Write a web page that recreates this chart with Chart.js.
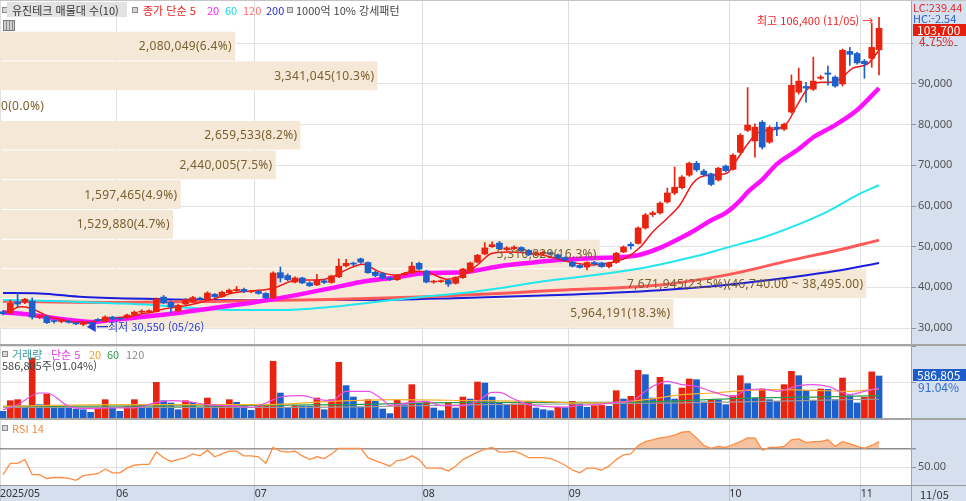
<!DOCTYPE html>
<html lang="ko">
<head>
<meta charset="utf-8">
<title>유진테크 일봉</title>
<script src="https://cdn.jsdelivr.net/npm/chart.js@4.4.1/dist/chart.umd.min.js"></script>
<style>
  html, body { margin: 0; padding: 0; background: #fff; }
  #wrap { position: relative; width: 966px; height: 501px; overflow: hidden; background: #fff;
          font-family: "Noto Sans CJK KR", "Noto Sans", sans-serif; font-size: 11px; }
  .pane { position: absolute; }
  .t { position: absolute; white-space: nowrap; line-height: 12px; }
  .sq { position: absolute; width: 4px; height: 4px; border: 1px solid #8a8a8a; background: #d8d8d8; }
  .band { position: absolute; white-space: nowrap; line-height: 12px; font-family: "Noto Sans", sans-serif;
          font-size: 12px; letter-spacing: 0.3px; color: #7a6030; }
  .line { position: absolute; left: 0; width: 966px; }
</style>
</head>
<body>
<div id="wrap">
  <div class="pane" style="left:911px;top:0;width:55px;height:501px;background:#d5dfed"></div>
  <div class="pane" style="left:0;top:486px;width:966px;height:15px;background:#d5dfed"></div>

  <div class="pane" style="left:0;top:0;width:966px;height:344px"><canvas id="cMain"></canvas></div>
  <div class="pane" style="left:0;top:346px;width:966px;height:72px"><canvas id="cVol"></canvas></div>
  <div class="pane" style="left:0;top:420px;width:966px;height:81px"><canvas id="cRsi"></canvas></div>

  <div class="line" style="top:0;height:1px;background:#c4c4c4"></div>
  <div class="line" style="top:344px;height:2px;background:#a4a4a4"></div>
  <div class="line" style="top:418px;height:2px;background:#a4a4a4"></div>
  <div class="line" style="top:485px;height:1px;background:#9a9a9a"></div>
  <div class="pane" style="left:911px;top:486px;width:1px;height:15px;background:#9aa4b4"></div>

  <!-- price panel legend -->
  <div class="sq" style="left:2px;top:7px"></div>
  <div class="pane" style="left:7px;top:2px;width:120px;height:15px;background:#e2e2e2"></div>
  <div class="t" style="left:12px;top:4px;color:#333">유진테크 매물대 수(10)</div>
  <div class="sq" style="left:132px;top:7px"></div>
  <div class="t" style="left:143px;top:4px;color:#f02020">종가 단순 5</div>
  <div class="t" style="left:207px;top:4px;color:#ff22ff">20</div>
  <div class="t" style="left:225px;top:4px;color:#18d8e8">60</div>
  <div class="t" style="left:243px;top:4px;color:#ff7070">120</div>
  <div class="t" style="left:266px;top:4px;color:#2a2ae0">200</div>
  <div class="sq" style="left:287px;top:7px"></div>
  <div class="t" style="left:296px;top:4px;color:#444">1000억 10% 강세패턴</div>
  <div class="pane" style="left:3px;top:20px;width:10px;height:9px;border:1px solid #7a7a7a;background:repeating-linear-gradient(90deg,#d0d0d0 0 2px,#8a8a8a 2px 3px)"></div>

  <div class="t" style="left:757px;top:14px;color:#ee2222">최고 106,400 (11/05) →</div>
  <div class="t" style="left:86px;top:320px;color:#2a3ed8">◀━최저 30,550 (05/26)</div>

  <!-- right axis labels -->
  <div class="t" style="left:913px;top:1px;color:#e02828">LC:239.44</div>
  <div class="t" style="left:913px;top:12px;color:#2a62d0">HC:-2.54</div>
  <div class="pane" style="left:913px;top:24px;width:53px;height:12px;background:#e4200c"></div>
  <div class="t" style="left:917px;top:24px;color:#fff;font-size:12px">103,700</div>
  <div class="pane" style="left:913px;top:36px;width:53px;height:9px;background:#d5dfed"></div>
  <div class="t" style="left:919px;top:35px;color:#e02828;font-size:12px">4.75%</div>

  <!-- volume legend -->
  <div class="sq" style="left:2px;top:351px"></div>
  <div class="t" style="left:12px;top:348px;color:#3a9aa0">거래량</div>
  <div class="t" style="left:51px;top:348px;color:#e040e0">단순 5</div>
  <div class="t" style="left:89px;top:348px;color:#f0a020">20</div>
  <div class="t" style="left:107px;top:348px;color:#2e9a4a">60</div>
  <div class="t" style="left:126px;top:348px;color:#8a8a8a">120</div>
  <div class="t" style="left:2px;top:359px;color:#444">586,805주(91.04%)</div>
  <div class="pane" style="left:913px;top:369px;width:53px;height:12px;background:#1d5cc9"></div>
  <div class="t" style="left:917px;top:369px;color:#fff;font-size:12px">586,805</div>
  <div class="t" style="left:918px;top:381px;color:#2f6fd6;font-size:12px">91.04%</div>

  <!-- rsi legend -->
  <div class="sq" style="left:2px;top:425px"></div>
  <div class="t" style="left:12px;top:422px;color:#f08a40">RSI 14</div>

  <div class="t" style="left:920px;top:488px;color:#333">11/05</div>
</div>

<script>
// Candles, one per trading day (2025/05 .. 2025/11/05)
const opens = [34000,33700,36400,36400,36600,32700,32800,31800,31600,31700,
  31300,30900,31200,32100,31600,32700,32300,32500,33300,33900,
  34000,34000,37600,36300,34200,35900,36500,37300,37000,38300,
  37700,38700,39200,39500,38900,39000,38500,37400,43600,42900,
  41300,42300,41100,40600,41600,41200,42600,45300,45800,47000,
  46100,43700,43400,42300,41900,43100,43500,45900,44000,41300,
  41400,41700,41000,42400,43800,46200,48200,50000,50900,49300,
  49500,49800,49100,48000,48300,48500,48000,47300,46200,45400,
  45000,46100,46000,45100,46100,48700,50600,50800,54600,57900,
  58300,61000,63200,64500,67600,70500,68600,67900,66400,69800,
  69000,73200,78600,76000,80600,75700,79400,78900,83100,88000,
  89400,88700,91400,92700,91700,90000,98000,97500,95600,96300,
  98400];
const highs = [34300,36900,38600,37300,37400,33300,33000,32000,31900,31800,
  31400,31400,31400,32300,33000,32900,32500,33400,34200,34500,
  34500,37400,38000,36600,35800,37200,37800,37600,38900,38500,
  39100,39600,40200,39800,39300,39200,38700,43800,45000,43300,
  42600,42500,41400,43200,41900,43000,47000,46900,46200,47200,
  46300,44000,43600,42500,43200,43700,46200,46200,44200,41700,
  41800,41900,42600,44700,46200,48100,51000,51200,51300,50000,
  50200,50000,49300,48800,48900,48700,48200,47500,46400,45600,
  46300,46400,46200,46200,48600,50200,51000,54900,58200,58700,
  61000,64400,69600,67500,70800,71000,69000,68100,69500,70100,
  72800,77800,89100,80200,81000,79700,80600,80400,92200,93900,
  90400,96600,92100,94400,92000,98600,99000,97800,96000,105000,
  106400];
const lows = [33200,33500,35200,36000,32200,32300,31100,31200,31300,31200,
  30800,30550,30800,31600,31500,32000,31900,32400,33100,33600,
  33800,33900,36000,33800,34000,35700,36300,36900,36900,37500,
  37500,38500,39000,38700,38700,38300,37200,37200,41300,41600,
  41100,40900,40200,40400,40900,41000,42400,45000,45300,45900,
  43400,42600,42000,41700,41700,42900,43300,44300,41100,41000,
  41200,40200,40800,42200,43600,46000,48000,49800,49300,49000,
  49200,48800,47800,47800,48100,47900,47000,46500,45000,44700,
  44300,45500,44900,44800,45900,48500,49400,50600,54300,57400,
  58000,60700,62800,64200,67300,68500,67400,65000,66100,68400,
  68800,72900,78300,72000,74000,75400,77300,78600,82800,87500,
  85500,88400,91100,89700,89200,89500,94600,94900,91400,94100,
  92200];
const closes = [33500,36100,35900,37100,32700,33000,31300,31600,31700,31400,
  31000,31200,31100,31800,32700,32200,32200,33200,33900,34100,
  34200,37100,36200,35200,35600,37000,37500,37100,38600,37700,
  38800,39300,39500,39000,39100,38500,37400,43500,42300,41900,
  42300,41100,40400,41800,41200,42800,45200,45900,45700,46200,
  43600,42900,42300,41900,43000,43400,45200,44500,41300,41500,
  41600,40800,42400,44500,46000,47900,49700,50500,49500,49700,
  49900,49000,48000,48500,48600,48200,47200,46700,45200,44900,
  46100,45800,45100,46000,48400,49900,50200,54600,57800,58300,
  60700,63200,64600,67100,70500,68900,67700,65300,69300,68700,
  72500,77400,79900,79400,74500,79300,78900,80100,89700,90700,
  89000,90700,91700,92400,89500,98300,97300,95200,95000,99000,
  103700];
const volumes = [93000,242000,256000,163000,838000,186000,335000,163000,160000,140000,
  126000,116000,79000,140000,256000,140000,93000,163000,256000,186000,
  140000,498000,242000,210000,116000,242000,219000,140000,279000,163000,
  170000,256000,219000,186000,107000,172000,175000,792000,349000,140000,
  172000,168000,165000,279000,116000,256000,778000,452000,293000,149000,
  256000,233000,126000,61000,256000,186000,466000,205000,215000,140000,
  102000,219000,140000,293000,265000,503000,489000,293000,219000,177000,
  196000,200000,233000,140000,116000,102000,149000,145000,233000,196000,
  149000,172000,176000,163000,382000,265000,303000,666000,605000,279000,
  568000,466000,265000,419000,545000,535000,224000,256000,250000,186000,
  312000,591000,480000,279000,405000,256000,233000,466000,652000,591000,
  382000,242000,405000,400000,256000,559000,312000,210000,289000,644558,
  586805];
const rsi14 = [42,54,54,58,42,42,38,39,39,38,
  36,41,42,43,48,44,44,49,52,53,
  53,66,60,56,58,60,64,62,68,61,
  64,67,67,62,62,61,54,71,67,66,
  67,62,58,61,59,64,70,70,70,70,
  60,57,54,51,57,58,62,58,49,49,
  49,46,51,58,62,66,69,71,66,66,
  67,64,60,60,60,59,56,52,47,44,
  49,49,47,51,58,63,64,73,77,79,
  81,82,84,87,88,81,73,70,72,71,
  74,77,81,81,68,71,71,72,79,80,
  76,77,77,79,72,77,75,72,70,73,
  77];

// Price moving averages (candle index, value)
const ma5Idx = [0,1,2.3,3.7,5,6.4,7.8,9.6,12,13.3,15,17,18.8,20.5,22,24,26.6,28.8,31.5,34,37,40.3,43,44.8,47,49.3,51.6,54,56.2,58.5,60.8,63,65,67,69.5,74,77.7,80.8,83,85.5,87.3,89,91,92.7,94.5,95.5,97.3,99.2,100.5,101.9,103.3,104.7,106,107.4,108.8,110.1,112,113.7,115,116.4,118.4,120];
const ma5Val = [33700,34200,35200,34900,33900,32700,32200,31500,31500,32000,32500,32700,33400,33900,34700,35200,36100,37100,38600,39100,39800,41800,41800,42300,44300,45700,43800,43000,44000,43500,42000,43000,45500,48400,48700,47900,46200,45500,46000,47400,49900,53600,57000,60200,65600,67100,67600,68100,71300,75000,77900,78600,78900,80400,84800,88500,90400,90400,91700,93900,94900,98300];
const ma20Idx = [0,4,9,12,15,19,24,28,32,38,45,49,54,58,63,68,72,76,81,84,87,90,93,95,97,99,101,102,104,106,109,111,114,117,120];
const ma20Val = [33900,33200,32000,31500,32000,32700,33700,34700,35700,37400,39800,41300,42500,43500,43700,45200,46000,46700,47200,47400,47900,49700,52300,54300,56500,58300,61400,63400,66500,70300,74000,76900,79900,83600,89000];
const ma60Idx = [0,8,15,20,26,32,38,45,51,56,63,68,74,80,88,95,99,104,108,113,117,120];
const ma60Val = [36900,36600,36100,35700,34900,34400,34400,35200,36400,37400,38600,39800,41500,42800,44900,47700,49700,52200,54800,58700,62700,65100];
const ma120Idx = [0,16,30,45,57,63,70,76,90,99,108,114,120];
const ma120Val = [36600,36300,36600,37000,37600,38100,38700,39300,40600,43000,46700,49000,51600];
const ma200Idx = [0,5,11,22,32,49,63,76,90,99,108,114,120];
const ma200Val = [38600,38500,37600,37100,36900,36900,37400,38100,39300,40600,42500,44000,46000];

// Volume moving averages (candle index, shares)
const vma5Idx = [0,2,5,6,9,11,15,18,21,23,25,28,31,34,36,38,41,43,45,47,50,52,53,56,58,60,63,65,67,68,70,72,74,77,79,81,84,86,88,89,91,93,95,97,100,102,104,106,109,111,113,116,118,120];
const vma5Val = [116000,186000,349000,349000,163000,130000,140000,140000,219000,242000,233000,186000,172000,149000,210000,293000,312000,265000,242000,373000,373000,256000,177000,219000,233000,172000,172000,233000,359000,359000,265000,186000,163000,154000,177000,186000,219000,233000,373000,442000,512000,466000,442000,373000,303000,396000,405000,373000,452000,466000,442000,326000,373000,419000];
const vma20Idx = [0,15,36,45,54,65,74,79,84,88,93,97,102,106,111,116,120];
const vma20Val = [163000,186000,186000,233000,256000,242000,233000,210000,219000,256000,326000,349000,387000,396000,387000,373000,405000];
const vma60Idx = [0,28,46,65,84,93,102,111,120];
const vma60Val = [163000,170000,186000,219000,219000,242000,279000,293000,312000];
const vma120Idx = [0,40,66,93,111,120];
const vma120Val = [149000,149000,186000,210000,247000,265000];

// Volume-by-price bands (매물대), top band first
const bandCenters = [99300,92000,84700,77400,70100,62800,55500,48200,40900,33600];
const bandVolumes = [2080049,3341045,0,2659533,2440005,1597465,1529880,5310829,7671945,5964191];
const bandPct = [6.4,10.3,0.0,8.2,7.5,4.9,4.7,16.3,23.5,18.3];
const bandNote = ['','','','','','','','','(46,740.00 ~ 38,495.00)',''];

// Axes
const priceTicks = [30000,40000,50000,60000,70000,80000,90000,100000];
const monthEdges = [-0.41,15.5,34.5,57.5,77.5,99.5,117.5];
const monthLabels = ['2025/05','06','07','08','09','10','11'];

const UP = '#e8230f';
const DOWN = '#1d5fcb';
const X_MIN = -0.41, X_MAX = 124.38;
const AXIS_W = 55;

Chart.defaults.font.family = "'Noto Sans', sans-serif";
Chart.defaults.animation = false;
Chart.defaults.events = [];
Chart.defaults.plugins.legend.display = false;
Chart.defaults.plugins.tooltip.enabled = false;

const toPts = (idx, val) => idx.map((x, k) => ({ x: x, y: val[k] }));

// keep every panel's plot area flush with its canvas edges
function noPad(s) {
  s.paddingLeft = 0; s.paddingRight = 0; s.paddingTop = 0; s.paddingBottom = 0;
}
function rightAxisFit(s) { s.width = AXIS_W; noPad(s); }

function timeAxis(withLabels) {
  return {
    type: 'linear', min: X_MIN, max: X_MAX, offset: false,
    afterBuildTicks: s => { s.ticks = monthEdges.map(v => ({ value: v })); },
    grid: { color: '#dedede', offset: false, drawTicks: withLabels, tickLength: 15, tickColor: '#b8c2d2' },
    border: { display: false },
    ticks: withLabels
      ? { display: true, autoSkip: false, maxRotation: 0, align: 'start', padding: -13,
          color: '#333', font: { size: 10.5 }, callback: (v, i) => monthLabels[i] }
      : { display: false },
    afterFit: s => { s.height = withLabels ? 15 : 0; noPad(s); }
  };
}

function maLine(idx, val, color, width, order) {
  return { type: 'line', data: toPts(idx, val), borderColor: color, borderWidth: width,
           pointRadius: 0, cubicInterpolationMode: 'monotone', order: order, fill: false };
}

const candleColor = closes.map((c, i) => c >= opens[i] ? UP : DOWN);

const mainChart = new Chart(document.getElementById('cMain'), {
  type: 'bar',
  data: {
    datasets: [
      { type: 'bar', indexAxis: 'y', xAxisID: 'xv', yAxisID: 'y',
        data: bandCenters.map((c, k) => ({ x: [0, bandVolumes[k]], y: c })),
        backgroundColor: '#f5e8d6', barThickness: 28, grouped: false, order: 20 },
      maLine(ma200Idx, ma200Val, '#1c1cdc', 2, 9),
      maLine(ma120Idx, ma120Val, '#ff5a5a', 3, 8),
      maLine(ma60Idx, ma60Val, '#22e6ee', 2, 7),
      maLine(ma20Idx, ma20Val, '#ff10ff', 4.5, 6),
      maLine(ma5Idx, ma5Val, '#f01818', 1.5, 2),
      { type: 'bar', data: highs.map((h, i) => ({ x: i, y: [lows[i], h] })),
        backgroundColor: candleColor, barThickness: 1, grouped: false, order: 1 },
      { type: 'bar', data: opens.map((o, i) => ({ x: i, y: [o, closes[i]] })),
        backgroundColor: candleColor, barThickness: 6, minBarLength: 1, grouped: false, order: 0 }
    ]
  },
  options: {
    responsive: true, maintainAspectRatio: false,
    layout: { padding: 0 },
    scales: {
      x: timeAxis(false),
      xv: { type: 'linear', display: false, min: 0, max: 8070600, offset: false, grid: { offset: false } },
      y: {
        position: 'right', min: 26070, max: 110650, offset: false,
        afterBuildTicks: s => { s.ticks = priceTicks.map(v => ({ value: v })); },
        ticks: { color: '#555', font: { size: 11 }, padding: 2,
                 callback: v => v.toLocaleString('en-US') },
        grid: { color: '#e2e2e2', tickColor: '#8a94a4', tickLength: 5, offset: false },
        border: { color: '#9aa4b4' },
        afterFit: rightAxisFit
      }
    }
  }
});

new Chart(document.getElementById('cVol'), {
  type: 'bar',
  data: {
    datasets: [
      maLine(vma120Idx, vma120Val, '#9a9a9a', 1.2, 5),
      maLine(vma60Idx, vma60Val, '#2e9a4a', 1.2, 4),
      maLine(vma20Idx, vma20Val, '#f5b030', 1.2, 3),
      maLine(vma5Idx, vma5Val, '#e850e8', 1.2, 2),
      { type: 'bar', data: volumes.map((v, i) => ({ x: i, y: v })),
        backgroundColor: volumes.map((v, i) => i > 0 && v > volumes[i - 1] ? UP : DOWN),
        barThickness: 6, grouped: false, order: 6 }
    ]
  },
  options: {
    responsive: true, maintainAspectRatio: false,
    layout: { padding: 0 },
    scales: {
      x: timeAxis(false),
      y: {
        position: 'right', min: 0, max: 1006000, offset: false,
        afterBuildTicks: s => { s.ticks = [500000, 1000000].map(v => ({ value: v })); },
        ticks: { callback: () => '' },
        grid: { color: '#e2e2e2', tickColor: '#8a94a4', tickLength: 5 },
        border: { color: '#9aa4b4' },
        afterFit: rightAxisFit
      }
    }
  }
});

new Chart(document.getElementById('cRsi'), {
  type: 'line',
  data: {
    datasets: [
      { data: rsi14.map((v, i) => ({ x: i, y: v })), borderColor: '#ff8c42', borderWidth: 1.3,
        pointRadius: 0, tension: 0,
        fill: { target: { value: 70 }, above: '#f6c3a0', below: 'rgba(0,0,0,0)' } }
    ]
  },
  options: {
    responsive: true, maintainAspectRatio: false,
    layout: { padding: 0 },
    scales: {
      x: timeAxis(true),
      y: {
        position: 'right', min: 30, max: 100, offset: false,
        afterBuildTicks: s => { s.ticks = [50, 70].map(v => ({ value: v })); },
        ticks: { color: '#555', font: { size: 11 }, padding: 2,
                 callback: v => v === 50 ? '50.00' : '' },
        grid: { color: c => c.tick && c.tick.value === 70 ? '#8c8c8c' : '#e2e2e2',
                lineWidth: c => c.tick && c.tick.value === 70 ? 1.5 : 1,
                tickColor: '#8a94a4', tickLength: 5 },
        border: { color: '#9aa4b4' },
        afterFit: rightAxisFit
      }
    }
  }
});

// Band labels, placed at each band's right end through the chart's scales
const wrap = document.getElementById('wrap');
const xv = mainChart.scales.xv, yPrice = mainChart.scales.y;
bandVolumes.forEach((v, k) => {
  const el = document.createElement('div');
  el.className = 'band';
  el.textContent = v.toLocaleString('en-US') + '(' + bandPct[k].toFixed(1) + '%)' + bandNote[k];
  wrap.appendChild(el);
  const end = xv.getPixelForValue(v);
  el.style.left = Math.max(1, end - 3 - el.offsetWidth) + 'px';
  el.style.top = (yPrice.getPixelForValue(bandCenters[k]) - 6) + 'px';
});
</script>
</body>
</html>
